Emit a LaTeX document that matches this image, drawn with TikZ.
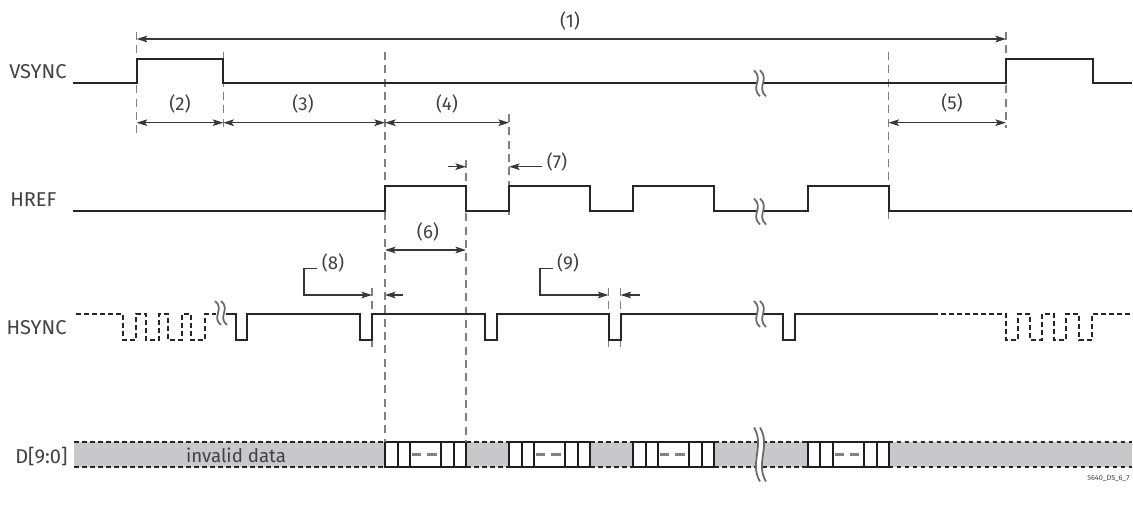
\documentclass[tikz,border=0pt]{standalone}
\usepackage{fontspec}
\setmainfont{Fira Sans}
\usetikzlibrary{arrows.meta}

\tikzset{every picture/.style={line width=0.75pt}}
\tikzset{
  wave/.style={draw={rgb, 255:red, 38; green, 38; blue, 38 }, line width=1.5pt},
  wavedash/.style={wave, line width=1.3pt, dash pattern=on 3.6pt off 2.4pt},
  guide/.style={draw={rgb, 255:red, 128; green, 128; blue, 128 }, line width=0.8pt, dash pattern=on 6pt off 4pt},
  measure/.style={draw={rgb, 255:red, 55; green, 55; blue, 55 }, line width=0.8pt, {Stealth[length=8pt,width=5pt,inset=1.8pt]}-{Stealth[length=8pt,width=5pt,inset=1.8pt]}},
  pointer/.style={draw={rgb, 255:red, 55; green, 55; blue, 55 }, line width=0.8pt, -{Stealth[length=8pt,width=5pt,inset=1.8pt]}},
  tag/.style={font=\fontsize{14}{14}\selectfont, text={rgb, 255:red, 64; green, 64; blue, 64 }, inner sep=0pt},
  signame/.style={tag, anchor=east, font=\fontsize{15}{15}\selectfont},
  brkline/.style={draw={rgb, 255:red, 105; green, 105; blue, 105 }, line width=1.3pt},
  busfill/.style={fill={rgb, 255:red, 200; green, 200; blue, 202 }},
  slot/.style={draw={rgb, 255:red, 30; green, 30; blue, 30 }, line width=1.5pt},
  slotdash/.style={draw={rgb, 255:red, 130; green, 130; blue, 130 }, line width=1.6pt, dash pattern=on 7pt off 4.5pt},
}

\begin{document}
\begin{tikzpicture}[x=0.75pt,y=0.75pt,yscale=-1,xscale=1]
	\useasboundingbox (0,0) rectangle (1133,506);

	%Bus: D[9:0] background
	\fill[busfill] (74,442) rectangle (1132,467);
	%Bus: borders between the slots
	\draw[wavedash] (74,442) -- (385,442) (466,442) -- (509,442) (590,442) -- (633,442) (714,442) -- (807.5,442) (888.5,442) -- (1132,442);
	\draw[wavedash] (74,467) -- (385,467) (466,467) -- (509,467) (590,467) -- (633,467) (714,467) -- (807.5,467) (888.5,467) -- (1132,467);
	%Slot 1
	\draw[slot, fill=white] (385,442) rectangle (466,467);
	\draw[slot] (397.5,442) -- (397.5,467) (410,442) -- (410,467) (441,442) -- (441,467) (454,442) -- (454,467);
	\draw[slotdash] (412,454.5) -- (441,454.5);
	%Slot 2
	\draw[slot, fill=white] (509,442) rectangle (590,467);
	\draw[slot] (521.5,442) -- (521.5,467) (534,442) -- (534,467) (565,442) -- (565,467) (578,442) -- (578,467);
	\draw[slotdash] (536,454.5) -- (565,454.5);
	%Slot 3
	\draw[slot, fill=white] (633,442) rectangle (714,467);
	\draw[slot] (645.5,442) -- (645.5,467) (658,442) -- (658,467) (689,442) -- (689,467) (702,442) -- (702,467);
	\draw[slotdash] (660,454.5) -- (689,454.5);
	%Slot 4
	\draw[slot, fill=white] (807.5,442) rectangle (888.5,467);
	\draw[slot] (820,442) -- (820,467) (832.5,442) -- (832.5,467) (863.5,442) -- (863.5,467) (876.5,442) -- (876.5,467);
	\draw[slotdash] (834.5,454.5) -- (863.5,454.5);

	%Guides
	\draw[guide] (136.7,32) -- (136.7,137);
	\draw[guide] (223.3,52) -- (223.3,128);
	\draw[guide] (385,52) -- (385,442);
	\draw[guide] (466,160) -- (466,442);
	\draw[guide] (509,114) -- (509,219);
	\draw[guide] (888.5,52) -- (888.5,219);
	\draw[guide] (1006,32) -- (1006,128);
	\draw[guide] (372,288) -- (372,347);
	\draw[guide] (608.5,288) -- (608.5,347);
	\draw[guide] (620.5,288) -- (620.5,347);

	%Signal: VSYNC
	\draw[wave] (73.3,83.3) -- (136.7,83.3) -- (136.7,59) -- (223.3,59) -- (223.3,83.3) -- (1006,83.3) -- (1006,59) -- (1093.3,59) -- (1093.3,83.3) -- (1132,83.3);
	%Signal: HREF
	\draw[wave] (73.3,211.5) -- (385,211.5) -- (385,186.5) -- (466,186.5) -- (466,211.5) -- (509,211.5) -- (509,186.5) -- (590,186.5) -- (590,211.5) -- (633,211.5) -- (633,186.5) -- (714,186.5) -- (714,211.5) -- (807.5,211.5) -- (807.5,186.5) -- (888.5,186.5) -- (888.5,211.5) -- (1132,211.5);
	%Signal: HSYNC
	\draw[wavedash] (76,314) -- (123,314) -- (123,340) -- (136,340) -- (136,314) -- (146,314) -- (146,340) -- (159,340) -- (159,314) -- (168,314) -- (168,340) -- (182,340) -- (182,314) -- (191,314) -- (191,340) -- (205,340) -- (205,314) -- (216,314);
	\draw[wave] (226,314) -- (235.5,314) -- (235.5,340) -- (247,340) -- (247,314) -- (360,314) -- (360,340) -- (372,340) -- (372,314) -- (485,314) -- (485,340) -- (497,340) -- (497,314) -- (608.5,314) -- (608.5,340) -- (620.5,340) -- (620.5,314) -- (783,314) -- (783,340) -- (795,340) -- (795,314) -- (933,314);
	\draw[wavedash] (933,314) -- (1006,314) -- (1006,340) -- (1018,340) -- (1018,314) -- (1030,314) -- (1030,340) -- (1042,340) -- (1042,314) -- (1054,314) -- (1054,340) -- (1066,340) -- (1066,314) -- (1079,314) -- (1079,340) -- (1092,340) -- (1092,314) -- (1132,314);

	%Breaks
	\begin{scope}[shift={(759,83.3)}]
		\fill[white] (-5,-13) .. controls (5,-4) and (-9,4) .. (1,13) -- (7,13) .. controls (-3,4) and (11,-4) .. (1,-13) -- cycle;
		\draw[brkline] (-5,-13) .. controls (5,-4) and (-9,4) .. (1,13) (1,-13) .. controls (11,-4) and (-3,4) .. (7,13);
	\end{scope}
	\begin{scope}[shift={(759,211.5)}]
		\fill[white] (-5,-13) .. controls (5,-4) and (-9,4) .. (1,13) -- (7,13) .. controls (-3,4) and (11,-4) .. (1,-13) -- cycle;
		\draw[brkline] (-5,-13) .. controls (5,-4) and (-9,4) .. (1,13) (1,-13) .. controls (11,-4) and (-3,4) .. (7,13);
	\end{scope}
	\begin{scope}[shift={(759,314)}]
		\fill[white] (-5,-13) .. controls (5,-4) and (-9,4) .. (1,13) -- (7,13) .. controls (-3,4) and (11,-4) .. (1,-13) -- cycle;
		\draw[brkline] (-5,-13) .. controls (5,-4) and (-9,4) .. (1,13) (1,-13) .. controls (11,-4) and (-3,4) .. (7,13);
	\end{scope}
	\begin{scope}[shift={(220,313)}]
		\fill[white] (-5,-12) .. controls (5,-4) and (-9,4) .. (1,12) -- (7,12) .. controls (-3,4) and (11,-4) .. (1,-12) -- cycle;
		\draw[brkline] (-5,-12) .. controls (5,-4) and (-9,4) .. (1,12) (1,-12) .. controls (11,-4) and (-3,4) .. (7,12);
	\end{scope}
	\begin{scope}[shift={(759,454.5)}]
		\fill[white] (-5,-27) .. controls (6,-9) and (-10,9) .. (1,27) -- (7,27) .. controls (-4,9) and (12,-9) .. (1,-27) -- cycle;
		\draw[brkline] (-5,-27) .. controls (6,-9) and (-10,9) .. (1,27) (1,-27) .. controls (12,-9) and (-4,9) .. (7,27);
	\end{scope}

	%Dimensions
	\draw[measure] (136.7,39) -- (1006,39);
	\draw[measure] (136.7,122.7) -- (223.3,122.7);
	\draw[measure] (223.3,122.7) -- (385,122.7);
	\draw[measure] (385,122.7) -- (509,122.7);
	\draw[measure] (888.5,122.7) -- (1006,122.7);
	\draw[measure] (385,250) -- (466,250);
	\draw[pointer] (448,166.7) -- (466,166.7);
	\draw[pointer] (541.7,166.7) -- (509,166.7);
	\draw[pointer] (316.7,268.3) -- (304,268.3) -- (304,295) -- (372,295);
	\draw[pointer] (403,295) -- (385,295);
	\draw[pointer] (553,268.3) -- (540,268.3) -- (540,295) -- (608.5,295);
	\draw[pointer] (640,295) -- (620.5,295);

	%Labels
	\node[signame] (vsync) at (67,72) {VSYNC};
	\node[signame] (href) at (57,200) {HREF};
	\node[signame] (hsync) at (67,328) {HSYNC};
	\node[signame] (dbus) at (68,456) {D[9:0]};
	\node[tag] (invalid) at (236,455) {invalid data};
	\node[tag] (lab1) at (570,21) {(1)};
	\node[tag] (lab2) at (180,104) {(2)};
	\node[tag] (lab3) at (303,104) {(3)};
	\node[tag] (lab4) at (447,104) {(4)};
	\node[tag] (lab5) at (952,103) {(5)};
	\node[tag] (lab6) at (428,232) {(6)};
	\node[tag] (lab7) at (557,162) {(7)};
	\node[tag] (lab8) at (333,263) {(8)};
	\node[tag] (lab9) at (568,263) {(9)};
	\node[tag, anchor=east, font=\fontsize{5.5}{5.5}\selectfont] (figid) at (1130,478) {5640\_DS\_6\_7};

\end{tikzpicture}
\end{document}
